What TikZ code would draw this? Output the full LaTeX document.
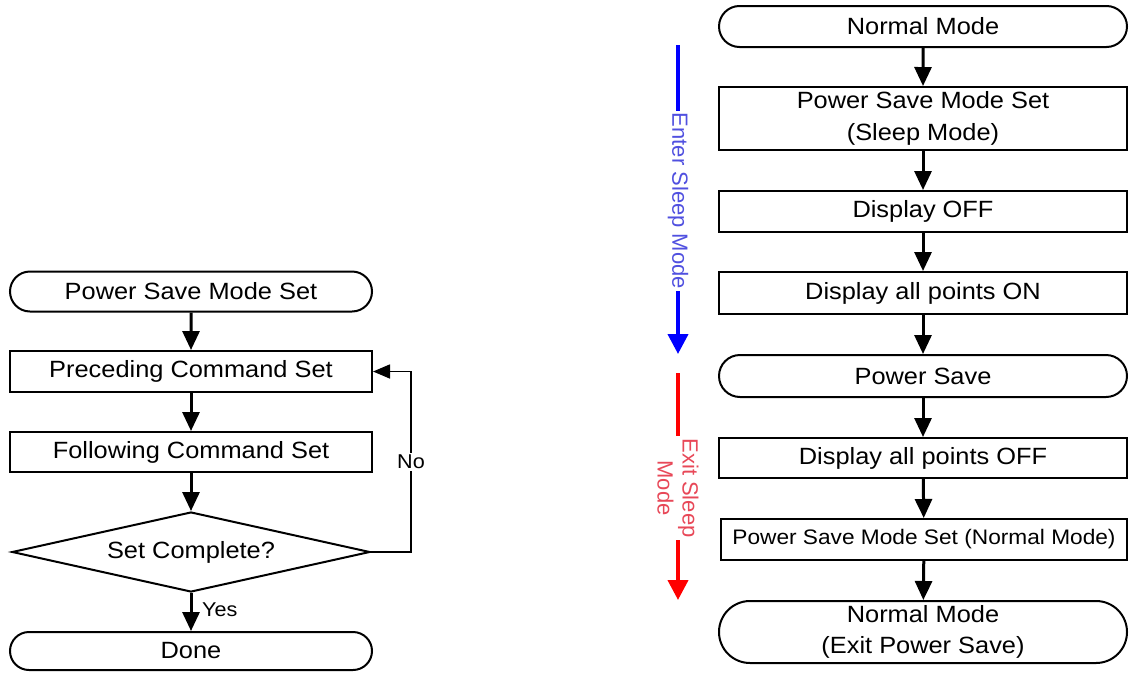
\documentclass[tikz,border=0pt]{standalone}
\usepackage{fontspec}
\setmainfont{Liberation Sans}[FakeStretch=1.08]
\newfontfamily\sidefont{Liberation Sans}
\usetikzlibrary{shapes.geometric,shapes.misc,arrows.meta}
\definecolor{entertext}{HTML}{5050E0}
\definecolor{exittext}{HTML}{E84858}
\begin{document}
\begin{tikzpicture}[x=1pt,y=-1pt,
  box/.style={draw, line width=2pt, rectangle, inner sep=0pt, align=center,
    font=\fontsize{23.5}{31.5}\selectfont},
  leftbox/.style={box, minimum width=362pt},
  rightbox/.style={box, minimum width=408pt},
  term/.style={rounded rectangle},
  flow/.style={line width=3pt, -{Triangle[length=19pt,width=17pt]}},
  sidelabel/.style={rotate=-90, fill=white, inner sep=2pt, align=center,
    font=\sidefont\fontsize{22}{25}\selectfont},
]
\useasboundingbox (0,0) rectangle (1129,672);

% ---- power save mode setting sequence ----
\node[leftbox, term, minimum height=40pt] (pset) at (191,291.5) {Power Save Mode Set};
\node[leftbox, minimum height=41pt] (pre) at (191,371.5) {Preceding Command Set};
\node[leftbox, minimum height=40pt] (fol) at (191,452) {Following Command Set};
\node[draw, line width=2pt, diamond, aspect=4.5, inner sep=0pt,
  minimum width=358pt, minimum height=80pt,
  font=\fontsize{23.5}{29}\selectfont] (chk) at (191,552) {Set Complete?};
\node[leftbox, term, minimum height=38pt] (done) at (191,651) {Done};

\draw[flow] (pset) -- (pre);
\draw[flow] (pre) -- (fol);
\draw[flow] (fol) -- (chk);
\draw[flow] (chk) -- (done);
\node[anchor=west, inner sep=1pt, font=\fontsize{20}{24}\selectfont] (yes) at (201,610) {Yes};

\coordinate (loop) at (411,552);
\draw[line width=1.6pt, -{Triangle[length=17pt,width=14pt]}] (chk.east) -- (loop) |- (pre.east);
\node[fill=white, inner sep=2pt, font=\fontsize{20}{24}\selectfont] (no) at (411,462) {No};

% ---- sleep mode entry / exit sequence ----
\node[rightbox, term, minimum height=41pt] (nm) at (923,26.5) {Normal Mode};
\node[rightbox, minimum height=63pt] (psm) at (923,118.5) {Power Save Mode Set\\(Sleep Mode)};
\node[rightbox, minimum height=41pt] (doff) at (923,211.5) {Display OFF};
\node[rightbox, minimum height=42pt] (don) at (923,293) {Display all points ON};
\node[rightbox, term, minimum height=42pt] (ps) at (923,376) {Power Save};
\node[rightbox, minimum height=40pt] (daoff) at (923,458) {Display all points OFF};
\node[box, minimum width=406pt, minimum height=41pt,
  font=\fontsize{21}{25}\selectfont] (psmn) at (924,539.5) {Power Save Mode Set (Normal Mode)};
\node[rightbox, term, minimum height=62pt] (nme) at (923,632) {Normal Mode\\(Exit Power Save)};

\draw[flow] (nm) -- (psm);
\draw[flow] (psm) -- (doff);
\draw[flow] (doff) -- (don);
\draw[flow] (don) -- (ps);
\draw[flow] (ps) -- (daoff);
\draw[flow] (daoff) -- (psmn);
\draw[flow] (psmn) -- (nme);

% phase markers
\coordinate (entertop) at (678,45);
\coordinate (enterbot) at (678,354);
\draw[blue, line width=4pt, -{Triangle[length=20pt,width=20pt]}] (entertop) -- (enterbot);
\node[sidelabel, text=entertext] (enter) at (678,201) {Enter Sleep Mode};

\coordinate (exittop) at (678,373);
\coordinate (exitbot) at (678,600);
\draw[red, line width=4pt, -{Triangle[length=20pt,width=20pt]}] (exittop) -- (exitbot);
\node[sidelabel, text=exittext] (exit) at (678,488) {Exit Sleep\\Mode};
\end{tikzpicture}
\end{document}
